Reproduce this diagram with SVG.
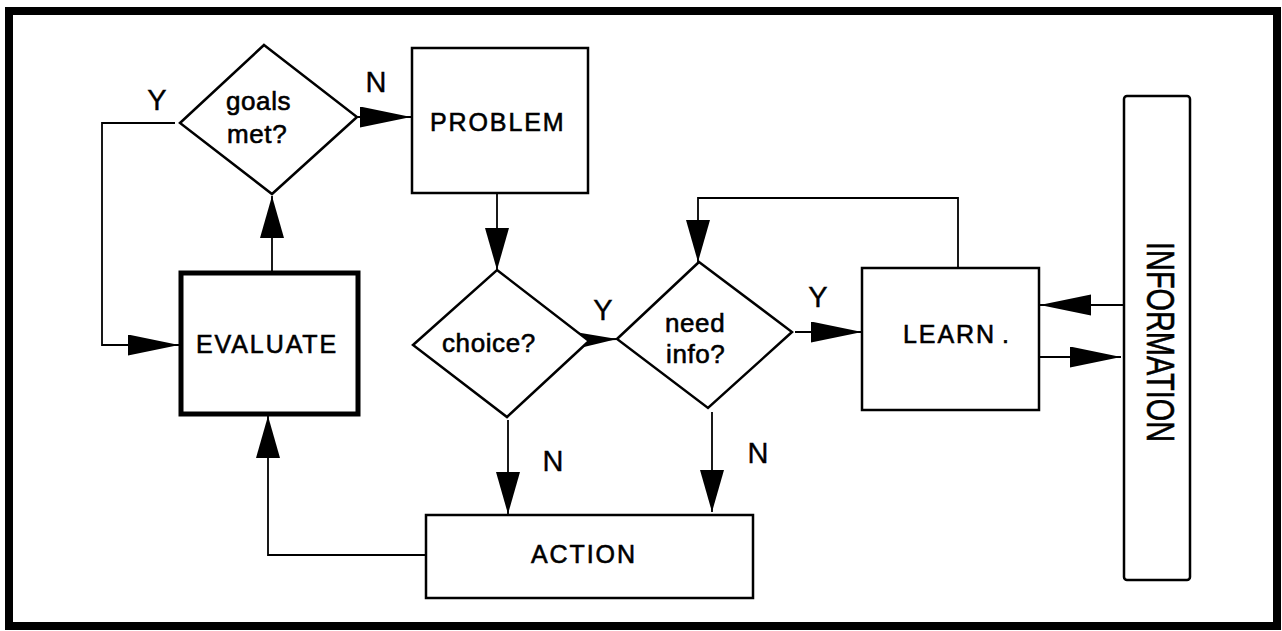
<svg xmlns="http://www.w3.org/2000/svg" width="1282" height="631" viewBox="0 0 1282 631">
<style>
.frame{fill:none;stroke:#000;stroke-width:8}
.box{fill:#fff;stroke:#000;stroke-width:2.5}
.thick{fill:#fff;stroke:#000;stroke-width:5}
.dia{fill:#fff;stroke:#000;stroke-width:2.5;stroke-linejoin:miter}
.con{fill:none;stroke:#000;stroke-width:1.8}
.lbl{font-family:"Liberation Sans",Arial,sans-serif;font-size:26px;fill:#000;stroke:#000;stroke-width:0.6px;letter-spacing:0.6px}
.cap{font-size:25px;letter-spacing:1.9px}
.info{font-size:39px;letter-spacing:0;text-anchor:middle}
.yn{font-family:"Liberation Sans",Arial,sans-serif;font-size:29px;fill:#000;stroke:#000;stroke-width:0.4px;text-anchor:middle}
</style>
<defs>
<marker id="ah" markerUnits="userSpaceOnUse" markerWidth="52" markerHeight="22" refX="51" refY="10.5" orient="auto" viewBox="0 0 52 22">
<path d="M0,0 L51,10.5 L0,21 Z" fill="#000"/>
</marker>
<marker id="av" markerUnits="userSpaceOnUse" markerWidth="43" markerHeight="25" refX="42" refY="12" orient="auto" viewBox="0 0 43 25">
<path d="M0,0 L42,12 L0,24 Z" fill="#000"/>
</marker>
</defs>
<rect width="1282" height="631" fill="#fff"/>
<rect class="frame" x="9" y="11" width="1268" height="615"/>

<g id="connectors">
<path class="con" d="M357,117 L411,117" marker-end="url(#ah)"/>
<path class="con" d="M175,123 L102,123 L102,345 L179,345" marker-end="url(#ah)"/>
<path class="con" d="M272,273 L272,196" marker-end="url(#av)"/>
<path class="con" d="M497,193 L497,270" marker-end="url(#av)"/>
<path class="con" d="M589,340 L617,339" marker-end="url(#ah)"/>
<path class="con" d="M795,332 L862,332" marker-end="url(#ah)"/>
<path class="con" d="M958,268 L958,198 L698,198 L698,262" marker-end="url(#av)"/>
<path class="con" d="M1124,305 L1040,305" marker-end="url(#ah)"/>
<path class="con" d="M1039,357 L1121,357" marker-end="url(#ah)"/>
<path class="con" d="M508,420 L508,514" marker-end="url(#av)"/>
<path class="con" d="M712,412 L712,512" marker-end="url(#av)"/>
<path class="con" d="M426,555 L268,555 L268,416" marker-end="url(#av)"/>
<text class="yn" x="157" y="110">Y</text>
<text class="yn" x="376" y="92">N</text>
<text class="yn" x="603" y="320">Y</text>
<text class="yn" x="818" y="307">Y</text>
<text class="yn" x="553" y="471">N</text>
<text class="yn" x="758" y="463">N</text>
</g>

<g id="goals">
<polygon class="dia" points="264,45 357,117 272,194 180,123"/>
<text class="lbl" x="226" y="110">goals</text>
<text class="lbl" x="227" y="143">met?</text>
</g>

<g id="problem">
<rect class="box" x="412" y="48" width="176" height="145"/>
<text class="lbl cap" x="430" y="131">PROBLEM</text>
</g>

<g id="choice">
<polygon class="dia" points="497,270 589,341 507,417 413,345"/>
<text class="lbl" x="442" y="352">choice?</text>
</g>

<g id="needinfo">
<polygon class="dia" points="699,262 792,332 708,408 617,339"/>
<text class="lbl" x="665" y="332">need</text>
<text class="lbl" x="666" y="363">info?</text>
</g>

<g id="learn">
<rect class="box" x="862" y="268" width="177" height="142"/>
<text class="lbl cap" x="903" y="343">LEARN<tspan dx="6">.</tspan></text>
</g>

<g id="information">
<rect class="box" x="1124" y="96" width="66" height="484" rx="3"/>
<text class="lbl info" x="0" y="0" textLength="200" lengthAdjust="spacingAndGlyphs" transform="translate(1147,342) rotate(90)">INFORMATION</text>
</g>

<g id="evaluate">
<rect class="thick" x="181" y="273" width="177" height="141"/>
<text class="lbl cap" x="196" y="353">EVALUATE</text>
</g>

<g id="action">
<rect class="box" x="426" y="515" width="327" height="83"/>
<text class="lbl cap" x="531" y="563">ACTION</text>
</g>
</svg>
